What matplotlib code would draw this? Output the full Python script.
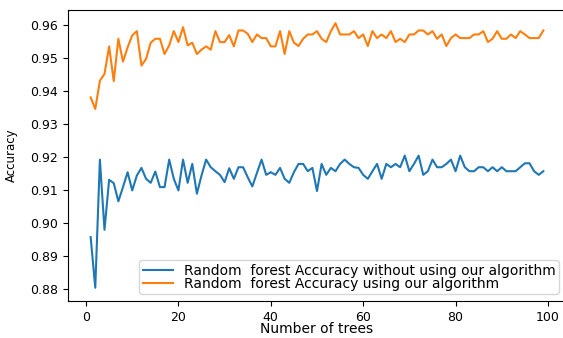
import numpy as np
import matplotlib
matplotlib.use("Agg")
import matplotlib.pyplot as plt

# number of trees in the forest, 1 to 99
trees = list(range(1, 100))

# accuracy of the plain random forest
acc_without = [
    0.8958, 0.8805, 0.9192, 0.8980, 0.9131, 0.9121, 0.9066, 0.9109, 0.9154, 0.9099,
    0.9144, 0.9167, 0.9134, 0.9122, 0.9156, 0.9109, 0.9109, 0.9192, 0.9134, 0.9099,
    0.9192, 0.9122, 0.9179, 0.9089, 0.9144, 0.9192, 0.9169, 0.9157, 0.9146, 0.9124,
    0.9166, 0.9134, 0.9169, 0.9169, 0.9139, 0.9111, 0.9152, 0.9192, 0.9146, 0.9154,
    0.9146, 0.9167, 0.9134, 0.9122, 0.9154, 0.9179, 0.9179, 0.9157, 0.9167, 0.9097,
    0.9179, 0.9146, 0.9167, 0.9157, 0.9179, 0.9192, 0.9179, 0.9169, 0.9167, 0.9146,
    0.9134, 0.9157, 0.9179, 0.9134, 0.9179, 0.9169, 0.9179, 0.9169, 0.9204, 0.9157,
    0.9179, 0.9204, 0.9146, 0.9157, 0.9192, 0.9169, 0.9169, 0.9179, 0.9192, 0.9157,
    0.9204, 0.9169, 0.9157, 0.9157, 0.9169, 0.9169, 0.9157, 0.9169, 0.9157, 0.9169,
    0.9157, 0.9157, 0.9157, 0.9169, 0.9181, 0.9181, 0.9157, 0.9146, 0.9157,
]

# accuracy of the random forest with our algorithm
acc_with = [
    0.9380, 0.9345, 0.9430, 0.9451, 0.9534, 0.9429, 0.9557, 0.9488, 0.9531, 0.9567,
    0.9580, 0.9476, 0.9496, 0.9545, 0.9557, 0.9557, 0.9511, 0.9537, 0.9580, 0.9547,
    0.9592, 0.9537, 0.9545, 0.9511, 0.9524, 0.9534, 0.9524, 0.9580, 0.9547, 0.9547,
    0.9568, 0.9534, 0.9582, 0.9582, 0.9572, 0.9547, 0.9570, 0.9559, 0.9559, 0.9534,
    0.9534, 0.9580, 0.9511, 0.9580, 0.9545, 0.9535, 0.9557, 0.9570, 0.9570, 0.9580,
    0.9557, 0.9547, 0.9580, 0.9604, 0.9570, 0.9570, 0.9570, 0.9580, 0.9559, 0.9570,
    0.9535, 0.9580, 0.9559, 0.9570, 0.9559, 0.9580, 0.9547, 0.9557, 0.9547, 0.9570,
    0.9570, 0.9582, 0.9582, 0.9570, 0.9580, 0.9557, 0.9570, 0.9535, 0.9559, 0.9570,
    0.9559, 0.9559, 0.9559, 0.9570, 0.9570, 0.9580, 0.9547, 0.9557, 0.9580, 0.9557,
    0.9557, 0.9570, 0.9559, 0.9580, 0.9570, 0.9559, 0.9559, 0.9559, 0.9582,
]

labels = [
    "Random  forest Accuracy without using our algorithm",
    "Random  forest Accuracy using our algorithm",
]

fig = plt.figure(figsize=(5.63, 3.38), dpi=100)
ax = fig.add_axes([0.1208, 0.1095, 0.8845, 0.861])
# axes run a little past the right edge of the canvas
ax.spines["right"].set_visible(False)

ax.plot(trees, acc_without, label=labels[0])
ax.plot(trees, acc_with, label=labels[1])

ax.set_xticks([0, 20, 40, 60, 80, 100])
ax.tick_params(labelsize=9)
ax.yaxis.set_major_formatter(matplotlib.ticker.FormatStrFormatter("%.2f"))

ax.set_xlabel("Number of trees", fontsize=10, labelpad=-1)
ax.set_ylabel("Accuracy", fontsize=8.5, labelpad=9)

ax.legend(loc="lower right", fontsize=10, labelspacing=-0.1, borderpad=0.25,
          handlelength=2.2, handletextpad=0.75)

fig.savefig("out.png", dpi=100)
